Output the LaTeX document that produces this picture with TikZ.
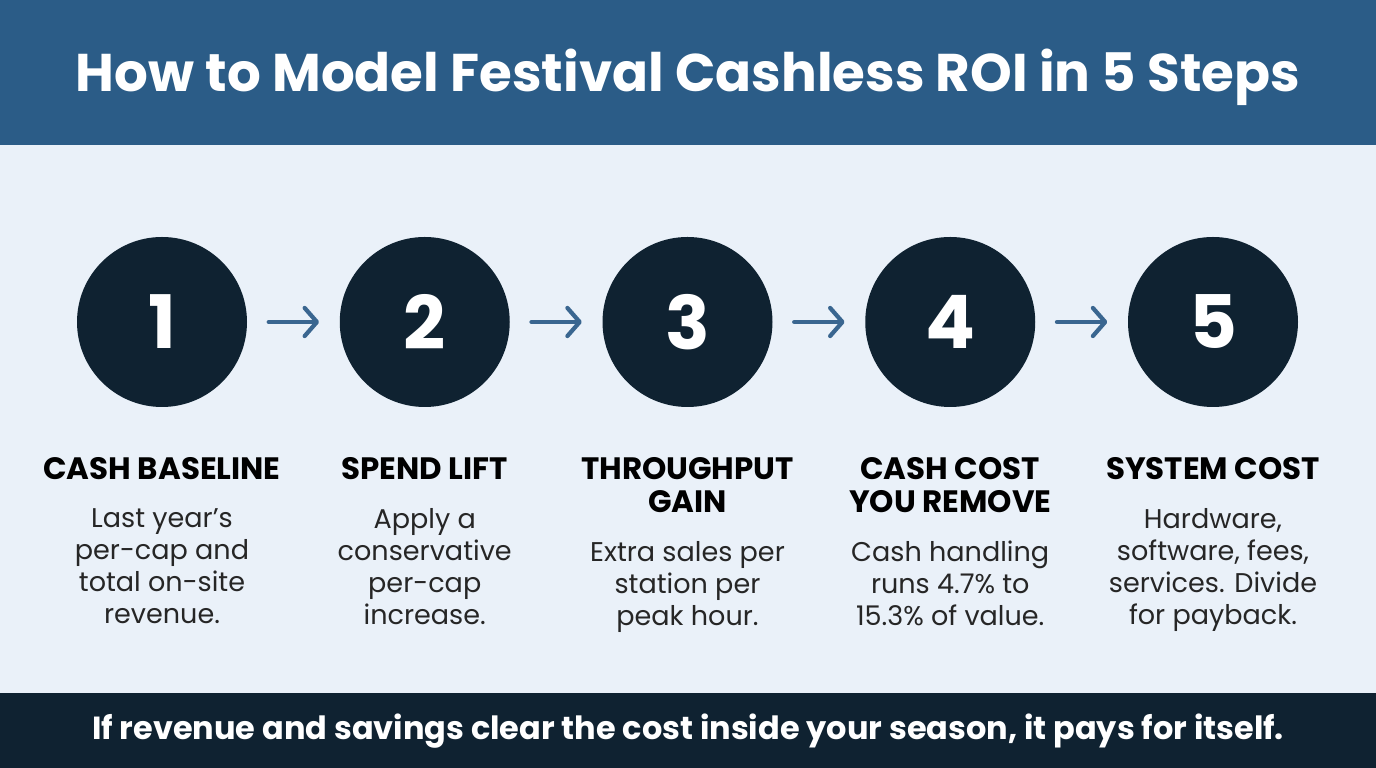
\documentclass[tikz,border=0pt]{standalone}
\usepackage{fontspec}
\setmainfont{Poppins}
\usetikzlibrary{positioning,arrows.meta}

\definecolor{bandblue}{HTML}{2B5C87}
\definecolor{paleback}{HTML}{EAF1F9}
\definecolor{navy}{HTML}{0F2231}
\definecolor{arrowblue}{HTML}{3A6690}

\tikzset{
  stepcircle/.style={circle, fill=navy, minimum size=1.7cm, inner sep=0pt,
    text=white, font=\bfseries\fontsize{21}{21}\selectfont},
  heading/.style={align=center, inner sep=0pt, anchor=north,
    font=\bfseries\fontsize{8.8}{9.4}\selectfont},
  body/.style={align=center, inner sep=0pt, text=black!85,
    font=\fontsize{7.7}{9.1}\selectfont},
  flow/.style={arrowblue, line width=1.2pt, line cap=round,
    -{Straight Barb[length=3.5pt,width=8pt,round]},
    shorten <=0.21cm, shorten >=0.2cm}
}

\begin{document}
\begin{tikzpicture}
\useasboundingbox (0,0) rectangle (13.76,7.68);

% draw background bands
\fill[paleback] (0,0) rectangle (13.76,7.68);
\fill[bandblue] (0,6.23) rectangle (13.76,7.68);
\fill[navy] (0,0) rectangle (13.76,0.75);

% draw title and footer
\node[text=white, font=\bfseries\fontsize{15.1}{15.1}\selectfont, anchor=base] (title) at (6.88,6.76)
  {How to Model Festival Cashless ROI in 5 Steps};
\node[text=white, font=\bfseries\fontsize{9.1}{9.1}\selectfont, anchor=base] (footer) at (6.88,0.28)
  {If revenue and savings clear the cost inside your season, it pays for itself.};

% draw steps
\foreach \head/\desc [count=\i] in {
  {CASH BASELINE}/{Last year’s\\per-cap and\\total on-site\\revenue.},
  {SPEND LIFT}/{Apply a\\conservative\\per-cap\\increase.},
  {THROUGHPUT\\GAIN}/{Extra sales per\\station per\\peak hour.},
  {CASH COST\\YOU REMOVE}/{Cash handling\\runs 4.7\% to\\15.3\% of value.},
  {SYSTEM COST}/{Hardware,\\software, fees,\\services. Divide\\for payback.}}
{
\node[stepcircle] (c\i) at ({1.62+(\i-1)*2.6275},4.46) {\i};
\node[heading] (h\i) at ({1.62+(\i-1)*2.6275},3.11) {\head};
\node[body, below=0.27cm of h\i] (d\i) {\desc};
}

% draw arrows
\foreach \i [evaluate=\i as \j using int(\i+1)] in {1,...,4}
  \draw[flow] (c\i) -- (c\j);
\end{tikzpicture}
\end{document}
